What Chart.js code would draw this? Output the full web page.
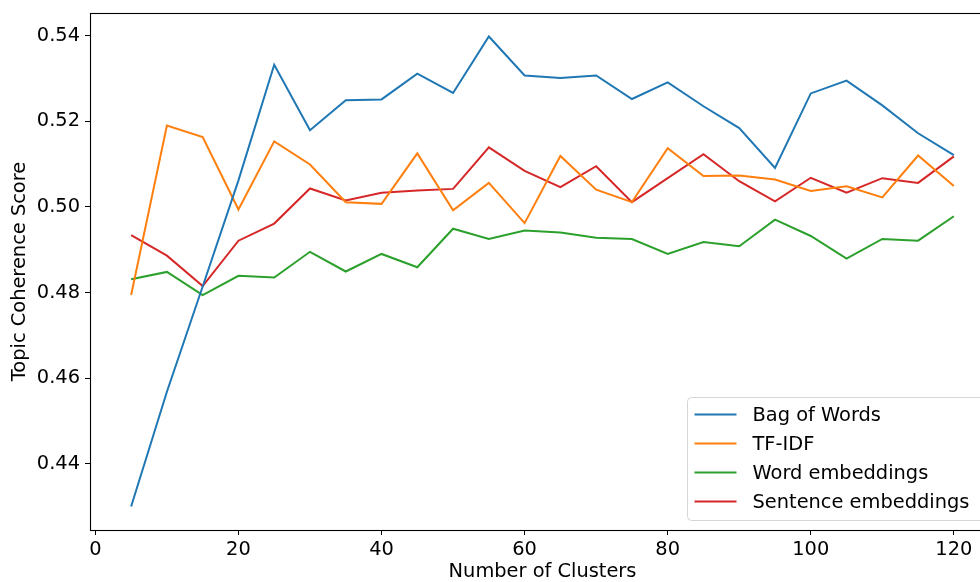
<!DOCTYPE html>
<html>
<head>
<meta charset="utf-8">
<script src="https://cdn.jsdelivr.net/npm/chart.js@4"></script>
<style>
  html, body { margin: 0; padding: 0; background: #fff; overflow: hidden; }
  #wrap { width: 1002px; height: 582px; }
</style>
</head>
<body>
<div id="wrap"><canvas id="c" width="1002" height="582"></canvas></div>
<script>
// Number of clusters on the x axis
const clusters = [5, 10, 15, 20, 25, 30, 35, 40, 45, 50, 55, 60,
                  65, 70, 75, 80, 85, 90, 95, 100, 105, 110, 115, 120];

// Topic coherence per representation
const bagOfWords = [0.4300, 0.4568, 0.4814, 0.5062, 0.5332, 0.5179, 0.5249, 0.5251,
                    0.5311, 0.5266, 0.5398, 0.5307, 0.5301, 0.5307, 0.5252, 0.5291,
                    0.5235, 0.5184, 0.5091, 0.5265, 0.5295, 0.5237, 0.5172, 0.5121];
const tfIdf = [0.4794, 0.5190, 0.5163, 0.4994, 0.5153, 0.5099, 0.5011, 0.5007,
               0.5125, 0.4992, 0.5056, 0.4962, 0.5119, 0.5040, 0.5011, 0.5137,
               0.5072, 0.5073, 0.5064, 0.5037, 0.5048, 0.5022, 0.5120, 0.5049];
const wordEmbeddings = [0.4831, 0.4848, 0.4794, 0.4839, 0.4835, 0.4895, 0.4849, 0.4890,
                        0.4859, 0.4949, 0.4925, 0.4945, 0.4940, 0.4928, 0.4925, 0.4890,
                        0.4918, 0.4908, 0.4970, 0.4932, 0.4879, 0.4925, 0.4921, 0.4978];
const sentenceEmbeddings = [0.4934, 0.4886, 0.4815, 0.4921, 0.4961, 0.5043, 0.5015, 0.5033,
                            0.5038, 0.5042, 0.5139, 0.5084, 0.5046, 0.5095, 0.5011, 0.5067,
                            0.5123, 0.5060, 0.5013, 0.5068, 0.5033, 0.5067, 0.5056, 0.5118];

const seriesNames = ['Bag of Words', 'TF-IDF', 'Word embeddings', 'Sentence embeddings'];
const seriesValues = [bagOfWords, tfIdf, wordEmbeddings, sentenceEmbeddings];

// Axis ticks and limits
const xTicks = [0, 20, 40, 60, 80, 100, 120];
const yTicks = [0.44, 0.46, 0.48, 0.50, 0.52, 0.54];
const xLimits = [-0.75, 125.75];
const yLimits = [0.42451, 0.54529];

const xTitle = 'Number of Clusters';
const yTitle = 'Topic Coherence Score';

const palette = ['#1f77b4', '#ff7f0e', '#2ca02c', '#d62728'];
const FONT_FAMILY = '"DejaVu Sans", sans-serif';
const FONT_SIZE = 19.4;

// Frame around the plotting area plus a boxed legend in the lower-right corner
const frameAndLegend = {
  id: 'frameAndLegend',
  afterDatasetsDraw(chart) {
    const { ctx, chartArea: a } = chart;
    ctx.save();

    // spines
    ctx.strokeStyle = '#000';
    ctx.lineWidth = 1.1;
    const l = Math.round(a.left) + 0.5, t = Math.round(a.top) + 0.5;
    const r = Math.round(a.right) + 0.5, b = Math.round(a.bottom) + 0.5;
    ctx.strokeRect(l, t, r - l, b - t);

    // legend
    ctx.font = `${FONT_SIZE}px ${FONT_FAMILY}`;
    const sets = chart.data.datasets;
    const textW = Math.max(...sets.map(d => ctx.measureText(d.label).width));
    const rowH = 29, padL = 7, handle = 42, gap = 16, padR = 16, padT = 17, padB = 19;
    const w = padL + handle + gap + textW + padR;
    const h = padT + rowH * (sets.length - 1) + padB;
    const right = a.right - 10, bottom = a.bottom - 10;
    const left = Math.round(right - w) + 0.5, top = Math.round(bottom - h) + 0.5;

    ctx.beginPath();
    ctx.roundRect(left, top, w, h, 4);
    ctx.fillStyle = 'rgba(255,255,255,0.8)';
    ctx.fill();
    ctx.strokeStyle = '#d6d6d6';
    ctx.lineWidth = 1;
    ctx.stroke();

    ctx.textAlign = 'left';
    ctx.textBaseline = 'middle';
    sets.forEach((d, i) => {
      const y = top + padT + i * rowH;
      ctx.beginPath();
      ctx.moveTo(left + padL, y);
      ctx.lineTo(left + padL + handle, y);
      ctx.strokeStyle = d.borderColor;
      ctx.lineWidth = 2;
      ctx.stroke();
      ctx.fillStyle = '#000';
      ctx.fillText(d.label, left + padL + handle + gap, y + 1);
    });
    ctx.restore();
  }
};

const datasets = seriesNames.map((name, i) => ({
  label: name,
  data: clusters.map((x, j) => ({ x, y: seriesValues[i][j] })),
  borderColor: palette[i],
  backgroundColor: palette[i],
  borderWidth: 2,
  pointRadius: 0,
  tension: 0,
  fill: false
}));

const tickFont = { family: FONT_FAMILY, size: FONT_SIZE };

new Chart(document.getElementById('c'), {
  type: 'line',
  data: { datasets },
  options: {
    responsive: false,
    animation: false,
    devicePixelRatio: 1,
    layout: { padding: { top: 13, right: 7, left: 0, bottom: 0 } },
    plugins: { legend: { display: false }, tooltip: { enabled: false } },
    scales: {
      x: {
        type: 'linear',
        min: xLimits[0],
        max: xLimits[1],
        afterBuildTicks: s => { s.ticks = xTicks.map(v => ({ value: v })); },
        afterFit: s => { s.height = 52; s.paddingLeft = 0; s.paddingRight = 0; },
        ticks: {
          color: '#000', font: tickFont, padding: 3, maxRotation: 0,
          callback: v => String(v)
        },
        grid: { drawOnChartArea: false, drawTicks: true, tickLength: 5, color: '#000', lineWidth: 1 },
        border: { display: false },
        title: {
          display: true, text: xTitle, color: '#000',
          font: { family: FONT_FAMILY, size: FONT_SIZE, lineHeight: 1 },
          padding: { top: 0, bottom: 0 }
        }
      },
      y: {
        type: 'linear',
        min: yLimits[0],
        max: yLimits[1],
        afterBuildTicks: s => { s.ticks = yTicks.map(v => ({ value: v })); },
        afterFit: s => { s.width = 90; s.paddingTop = 0; s.paddingBottom = 0; },
        ticks: {
          color: '#000', font: tickFont, padding: 5,
          callback: v => Number(v).toFixed(2)
        },
        grid: { drawOnChartArea: false, drawTicks: true, tickLength: 5, color: '#000', lineWidth: 1 },
        border: { display: false },
        title: {
          display: true, text: yTitle, color: '#000',
          font: { family: FONT_FAMILY, size: FONT_SIZE, lineHeight: 1 },
          padding: { top: 10, bottom: 0 }
        }
      }
    }
  },
  plugins: [frameAndLegend]
});
</script>
</body>
</html>
